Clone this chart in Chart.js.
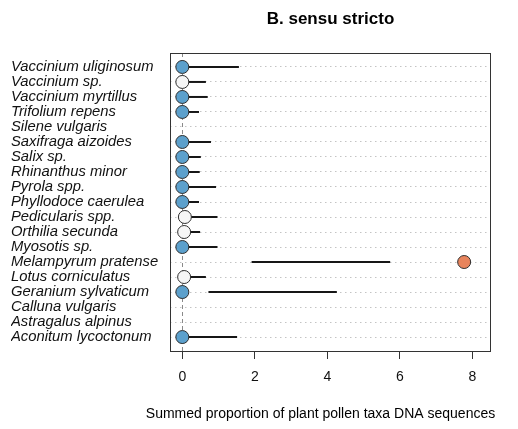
<!DOCTYPE html>
<html>
<head>
<meta charset="utf-8">
<title>B. sensu stricto</title>
<script src="https://cdn.jsdelivr.net/npm/chart.js@4/dist/chart.umd.min.js"></script>
<style>
  html, body { margin: 0; padding: 0; background: #ffffff; }
  canvas { display: block; }
</style>
</head>
<body>
<canvas id="chart" width="518" height="429"></canvas>
<script>
// Plant taxa, listed top to bottom
const taxa = [
  "Vaccinium uliginosum", "Vaccinium sp.", "Vaccinium myrtillus", "Trifolium repens",
  "Silene vulgaris", "Saxifraga aizoides", "Salix sp.", "Rhinanthus minor",
  "Pyrola spp.", "Phyllodoce caerulea", "Pedicularis spp.", "Orthilia secunda",
  "Myosotis sp.", "Melampyrum pratense", "Lotus corniculatus", "Geranium sylvaticum",
  "Calluna vulgaris", "Astragalus alpinus", "Aconitum lycoctonum"
];

// Observed summed proportion (point) per taxon; null = not observed
const observed = [0, 0, 0, 0, null, 0, 0, 0, 0, 0, 0.07, 0.05, 0, 7.77, 0.05, 0, null, null, 0];

// Expected range (segment) per taxon
const rangeLow  = [0, 0, 0, 0, null, 0, 0, 0, 0, 0, 0.07, 0.05, 0, 1.91, 0.05, 0.72, null, null, 0];
const rangeHigh = [1.56, 0.65, 0.70, 0.46, null, 0.79, 0.51, 0.48, 0.93, 0.46, 0.97, 0.49, 0.97, 5.73, 0.65, 4.26, null, null, 1.51];

// Point class per taxon: within range, non-significant, above range
const pointClass = ["in", "ns", "in", "in", null, "in", "in", "in", "in", "in", "ns", "ns", "in", "above", "ns", "in", null, null, "in"];
const classColours = { in: "#5ca0cc", ns: "#f6f6f6", above: "#e8845c" };

// x axis tick values
const xTicks = [0, 2, 4, 6, 8];

const FONT = "'Liberation Sans', Arial, Helvetica, sans-serif";

const segmentSets = [];
taxa.forEach((name, i) => {
  if (rangeLow[i] === null || rangeHigh[i] === null) return;
  segmentSets.push({
    label: name,
    showLine: true,
    data: [{ x: rangeLow[i], y: i + 1 }, { x: rangeHigh[i], y: i + 1 }],
    borderColor: "#161616",
    borderWidth: 2,
    pointRadius: 0,
    pointHoverRadius: 0,
    order: 1,
    clip: false
  });
});

const pointData = [];
const pointFill = [];
taxa.forEach((name, i) => {
  if (observed[i] === null) return;
  pointData.push({ x: observed[i], y: i + 1 });
  pointFill.push(classColours[pointClass[i]]);
});

const pointSet = {
  label: "observed",
  data: pointData,
  backgroundColor: pointFill,
  borderColor: "#2e2e2e",
  borderWidth: 1,
  pointRadius: 6.5,
  pointHoverRadius: 6.5,
  order: 0,
  clip: false
};

// Frame around the plot plus main and axis titles
const framePlugin = {
  id: "frame",
  afterDraw(chart) {
    const { ctx, chartArea: a } = chart;
    ctx.save();
    ctx.strokeStyle = "#333333";
    ctx.lineWidth = 1;
    ctx.strokeRect(Math.round(a.left) + 0.5, Math.round(a.top) + 0.5,
                   Math.round(a.right - a.left) - 1, Math.round(a.bottom - a.top));
    ctx.fillStyle = "#000000";
    ctx.textAlign = "center";
    ctx.textBaseline = "alphabetic";
    ctx.font = "bold 17px " + FONT;
    ctx.fillText("B. sensu stricto", (a.left + a.right) / 2, 24);
    ctx.font = "14px " + FONT;
    ctx.fillText("Summed proportion of plant pollen taxa DNA sequences", (a.left + a.right) / 2 - 10, 418);
    ctx.restore();
  }
};

new Chart(document.getElementById("chart"), {
  type: "scatter",
  data: { datasets: [pointSet, ...segmentSets] },
  options: {
    responsive: false,
    animation: false,
    events: [],
    layout: { padding: { top: 53, right: 27, left: 11, bottom: 0 } },
    plugins: {
      legend: { display: false },
      tooltip: { enabled: false },
      title: { display: false }
    },
    scales: {
      x: {
        type: "linear",
        min: -0.34,
        max: 8.51,
        afterBuildTicks(scale) { scale.ticks = xTicks.map(v => ({ value: v })); },
        afterFit(scale) { scale.height = 78; },
        grid: {
          drawOnChartArea: true,
          drawTicks: true,
          tickLength: 8,
          tickColor: "#333333",
          tickWidth: 1,
          tickBorderDash: [],
          lineWidth: 1,
          color: ctx => (ctx.tick && ctx.tick.value === 0 ? "#8a8a8a" : "rgba(0,0,0,0)")
        },
        border: { display: false, dash: [4, 3] },
        ticks: {
          color: "#111111",
          font: { family: FONT, size: 14 },
          padding: 10,
          maxRotation: 0
        }
      },
      y: {
        type: "linear",
        reverse: true,
        min: 0.07,
        max: 19.93,
        afterBuildTicks(scale) { scale.ticks = taxa.map((_, i) => ({ value: i + 1 })); },
        afterFit(scale) { scale.width = 159; },
        grid: {
          drawOnChartArea: true,
          drawTicks: false,
          color: "#c4c4c4",
          lineWidth: 1
        },
        border: { display: false, dash: [1.5, 3.5] },
        ticks: {
          color: "#111111",
          font: { family: FONT, size: 14.8, style: "italic" },
          padding: 17,
          crossAlign: "far",
          autoSkip: false,
          callback: v => taxa[Math.round(v) - 1] || ""
        }
      }
    }
  },
  plugins: [framePlugin]
});
</script>
</body>
</html>
